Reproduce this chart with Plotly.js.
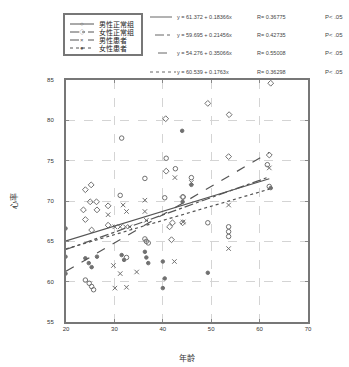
<!DOCTYPE html>
<html><head><meta charset="utf-8">
<script src="https://cdn.plot.ly/plotly-3.0.1.min.js"></script>
<style>html,body{margin:0;padding:0;background:#fff}#c{width:349px;height:367px}</style>
</head><body><div id="c"></div>
<script>
// group names (legend box)
var groupNames = ["男性正常组", "女性正常组", "男性患者", "女性患者"];
var groupSymbols = ["circle-open", "diamond-open", "x-thin-open", "circle"];
var lineDashes = ["solid", "dashdot", "dash", "dot"];

// scatter data per group: age (x) and heart rate (y)
var g1x = [31.5,40.7,42.6,36.3,45.9,40.4,44.2,31.2,49.3,53.6,53.6,53.6,36.3,36.6,37.0,24.0,24.8,25.3,25.7,32.5,61.6,62.0];
var g1y = [77.8,75.3,74.0,72.8,72.9,70.4,70.5,70.7,67.3,66.8,66.2,65.6,65.3,65.0,64.8,60.2,59.8,59.4,59.0,63.0,74.5,71.8];
var g2x = [40.6,49.3,53.7,53.6,62.0,40.7,25.2,24.0,25.0,26.3,23.6,26.4,28.7,24.0,28.7,25.3,44.1,41.4,42.0,41.8,44.1,62.3];
var g2y = [80.2,82.1,80.7,75.5,75.7,73.7,72.0,71.4,69.9,69.9,68.9,68.9,69.4,67.7,67.0,66.4,67.3,66.8,67.3,65.2,70.5,84.6];
var g3x = [42.5,45.9,36.3,31.8,32.5,36.3,28.7,30.1,31.2,32.3,33.2,36.6,44.2,42.4,34.6,31.2,29.8,30.1,32.5,53.6,53.6,62.0];
var g3y = [72.9,72.3,70.1,69.5,68.7,68.7,68.3,66.8,66.8,66.8,66.8,67.6,67.4,62.5,61.2,61.0,62.0,59.2,59.3,64.1,69.5,74.1];
var g4x = [44.0,45.9,19.9,19.9,19.9,24.0,24.7,25.3,26.4,31.5,32.0,36.3,36.6,37.0,40.0,40.4,40.0,49.3,62.3,44.1];
var g4y = [78.7,72.0,63.1,61.0,66.6,62.9,62.3,61.8,63.1,63.3,62.7,63.7,63.0,62.3,62.5,60.4,59.2,61.1,71.6,69.9];

// regression fits
var intercepts = [61.372, 59.695, 54.276, 60.539];
var slopes = [0.18366, 0.21456, 0.35066, 0.1763];
var rValues = ["0.36775", "0.42735", "0.55008", "0.36298"];
var pTexts = ["P< .05", "P< .05", "P< .05", "P< .05"];
var fitRange = [20, 62];

// axis ticks
var xTicks = [20, 30, 40, 50, 60, 70];
var yTicks = [55, 60, 65, 70, 75, 80, 85];

var gx = [g1x, g2x, g3x, g4x], gy = [g1y, g2y, g3y, g4y];
var markerSizes = [4.5, 4.5, 4.5, 3.5];
var traces = [];
for (var i = 0; i < 4; i++) {
  traces.push({
    x: gx[i], y: gy[i], type: "scatter", mode: "markers", showlegend: false,
    marker: {symbol: groupSymbols[i], size: markerSizes[i], color: "#707070", line: {color: "#707070", width: 1}}
  });
}
for (var i = 0; i < 4; i++) {
  traces.push({
    x: fitRange.slice(), y: fitRange.map(function (v) { return intercepts[i] + slopes[i] * v; }),
    type: "scatter", mode: "lines", showlegend: false,
    line: {color: "#555", width: 1.2, dash: lineDashes[i]}
  });
}

var L = 66, R = 308, T = 80, B = 322;
function px(xp) { return (xp - L) / (R - L); }
function py(yp) { return (B - yp) / (B - T); }

var font = "Liberation Sans, Noto Sans CJK SC, sans-serif";
var shapes = [], annotations = [];

// legend box
shapes.push({type: "rect", xref: "paper", yref: "paper", x0: px(64), x1: px(142), y0: py(55), y1: py(14),
  line: {color: "#777", width: 2}, fillcolor: "rgba(0,0,0,0)"});
var rowsY = [24, 32, 40, 48];
for (var i = 0; i < 4; i++) {
  shapes.push({type: "line", xref: "paper", yref: "paper", x0: px(70), x1: px(94), y0: py(rowsY[i]), y1: py(rowsY[i]),
    line: {color: "#555", width: 1, dash: lineDashes[i]}});
  annotations.push({xref: "paper", yref: "paper", x: px(82), y: py(rowsY[i]), showarrow: false,
    text: ["○", "◇", "×", "●"][i], font: {size: 6, color: "#555", family: font}, xanchor: "center", yanchor: "middle"});
  annotations.push({xref: "paper", yref: "paper", x: px(97), y: py(rowsY[i]), showarrow: false,
    text: groupNames[i], font: {size: 7, color: "#222", family: font}, xanchor: "left", yanchor: "middle"});
}

// equation lines
var eqY = [17, 35, 53, 72];
var sampleX = [[150, 172], [155, 172], [158, 172], [150, 176]];
for (var i = 0; i < 4; i++) {
  shapes.push({type: "line", xref: "paper", yref: "paper", x0: px(sampleX[i][0]), x1: px(sampleX[i][1]),
    y0: py(eqY[i]), y1: py(eqY[i]), line: {color: "#666", width: 1, dash: lineDashes[i]}});
  annotations.push({xref: "paper", yref: "paper", x: px(175), y: py(eqY[i]), showarrow: false, xanchor: "left", yanchor: "middle",
    text: "y = " + intercepts[i].toFixed(3) + " + " + slopes[i] + "x", font: {size: 5.5, color: "#444", family: font}});
  annotations.push({xref: "paper", yref: "paper", x: px(255), y: py(eqY[i]), showarrow: false, xanchor: "left", yanchor: "middle",
    text: "R= " + rValues[i], font: {size: 5.5, color: "#444", family: font}});
  annotations.push({xref: "paper", yref: "paper", x: px(323), y: py(eqY[i]), showarrow: false, xanchor: "left", yanchor: "middle",
    text: pTexts[i], font: {size: 6, color: "#444", family: font}});
}

var axisCommon = {
  showline: true, linecolor: "#777", linewidth: 2, mirror: "ticks",
  ticks: "inside", ticklen: 3, tickcolor: "#888", tickwidth: 1,
  showgrid: true, gridcolor: "#d4d4d4", gridwidth: 1, griddash: "dash",
  zeroline: false, tickfont: {size: 6, color: "#333", family: font}
};
var layout = {
  width: 349, height: 367, paper_bgcolor: "#fff", plot_bgcolor: "#fff",
  margin: {l: L, r: 349 - R, t: T, b: 367 - B, pad: 0},
  showlegend: false,
  xaxis: Object.assign({}, axisCommon, {range: [20, 70], tickvals: xTicks, ticktext: xTicks.map(String),
    title: {text: "年龄", font: {size: 8, color: "#333", family: font}, standoff: 24}}),
  yaxis: Object.assign({}, axisCommon, {range: [55, 85], tickvals: yTicks, ticktext: yTicks.map(String), ticklabelstandoff: 9,
    title: {text: "心率", font: {size: 8, color: "#333", family: font}, standoff: 28}}),
  shapes: shapes, annotations: annotations
};
Plotly.newPlot("c", traces, layout, {displayModeBar: false, staticPlot: true});
</script></body></html>
